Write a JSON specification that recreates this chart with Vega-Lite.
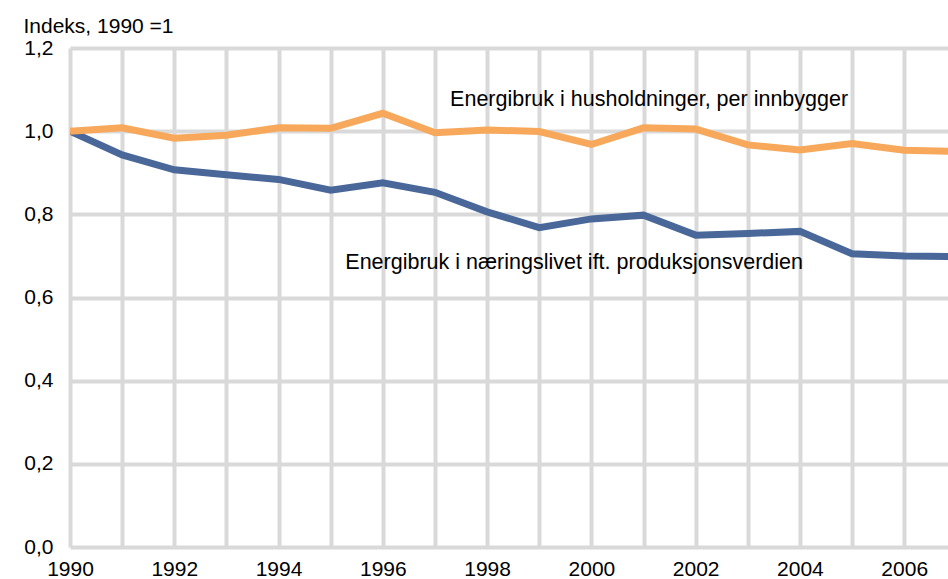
{
  "$schema": "https://vega.github.io/schema/vega-lite/v6.json",
  "autosize": {"type": "none"},
  "padding": {"left": 70, "top": 48, "right": 0, "bottom": 32},
  "width": 878,
  "height": 499,
  "background": "white",
  "config": {
    "view": {"stroke": null},
    "font": "Liberation Sans"
  },
  "datasets": {
    "serier": [
      {"aar": 1990, "serie": "hus", "verdi": 1.0},
      {"aar": 1991, "serie": "hus", "verdi": 1.008},
      {"aar": 1992, "serie": "hus", "verdi": 0.983},
      {"aar": 1993, "serie": "hus", "verdi": 0.99},
      {"aar": 1994, "serie": "hus", "verdi": 1.008},
      {"aar": 1995, "serie": "hus", "verdi": 1.007},
      {"aar": 1996, "serie": "hus", "verdi": 1.043},
      {"aar": 1997, "serie": "hus", "verdi": 0.996},
      {"aar": 1998, "serie": "hus", "verdi": 1.003},
      {"aar": 1999, "serie": "hus", "verdi": 0.999},
      {"aar": 2000, "serie": "hus", "verdi": 0.968},
      {"aar": 2001, "serie": "hus", "verdi": 1.008},
      {"aar": 2002, "serie": "hus", "verdi": 1.005},
      {"aar": 2003, "serie": "hus", "verdi": 0.967},
      {"aar": 2004, "serie": "hus", "verdi": 0.955},
      {"aar": 2005, "serie": "hus", "verdi": 0.97},
      {"aar": 2006, "serie": "hus", "verdi": 0.954},
      {"aar": 2007, "serie": "hus", "verdi": 0.951},
      {"aar": 1990, "serie": "naer", "verdi": 1.0},
      {"aar": 1991, "serie": "naer", "verdi": 0.943},
      {"aar": 1992, "serie": "naer", "verdi": 0.907},
      {"aar": 1993, "serie": "naer", "verdi": 0.895},
      {"aar": 1994, "serie": "naer", "verdi": 0.884},
      {"aar": 1995, "serie": "naer", "verdi": 0.858},
      {"aar": 1996, "serie": "naer", "verdi": 0.876},
      {"aar": 1997, "serie": "naer", "verdi": 0.853},
      {"aar": 1998, "serie": "naer", "verdi": 0.806},
      {"aar": 1999, "serie": "naer", "verdi": 0.768},
      {"aar": 2000, "serie": "naer", "verdi": 0.789},
      {"aar": 2001, "serie": "naer", "verdi": 0.798},
      {"aar": 2002, "serie": "naer", "verdi": 0.750},
      {"aar": 2003, "serie": "naer", "verdi": 0.754},
      {"aar": 2004, "serie": "naer", "verdi": 0.759},
      {"aar": 2005, "serie": "naer", "verdi": 0.705},
      {"aar": 2006, "serie": "naer", "verdi": 0.700},
      {"aar": 2007, "serie": "naer", "verdi": 0.698}
    ],
    "etiketter": [
      {"aar": 1997.29, "verdi": 1.061, "tekst": "Energibruk i husholdninger, per innbygger"},
      {"aar": 1995.28, "verdi": 0.669, "tekst": "Energibruk i næringslivet ift. produksjonsverdien"}
    ]
  },
  "layer": [
    {
      "data": {"name": "serier"},
      "transform": [{"filter": "datum.serie == 'naer'"}],
      "mark": {"type": "line", "color": "#4A679A", "strokeWidth": 7, "clip": true, "strokeCap": "butt"},
      "encoding": {
        "x": {
          "field": "aar", "type": "quantitative",
          "scale": {"domain": [1990, 2006.84], "nice": false, "zero": false},
          "axis": {
            "values": [1990,1991,1992,1993,1994,1995,1996,1997,1998,1999,2000,2001,2002,2003,2004,2005,2006],
            "labelExpr": "datum.value % 2 == 0 ? format(datum.value, 'd') : ''",
            "grid": true, "gridColor": "#D9D9D9", "gridWidth": 4,
            "domain": false, "ticks": false, "labelFlush": false, "labelOverlap": false,
            "labelFontSize": 21, "labelColor": "#000000", "labelPadding": 11,
            "labelFont": "Liberation Sans", "title": null
          }
        },
        "y": {
          "field": "verdi", "type": "quantitative",
          "scale": {"domain": [0, 1.2], "nice": false},
          "axis": {
            "values": [0, 0.2, 0.4, 0.6, 0.8, 1.0, 1.2],
            "labelExpr": "replace(format(datum.value, '.1f'), '.', ',')",
            "grid": true, "gridColor": "#D9D9D9", "gridWidth": 4,
            "domain": false, "ticks": false, "labelFlush": false, "labelOverlap": false,
            "labelFontSize": 21, "labelColor": "#000000", "labelPadding": 17,
            "labelFont": "Liberation Sans",
            "title": "Indeks, 1990 =1",
            "titleAngle": 0, "titleAlign": "left", "titleBaseline": "alphabetic",
            "titleX": -47, "titleY": -16,
            "titleFontSize": 21, "titleFontWeight": "normal", "titleColor": "#000000",
            "titleFont": "Liberation Sans"
          }
        }
      }
    },
    {
      "data": {"name": "serier"},
      "transform": [{"filter": "datum.serie == 'hus'"}],
      "mark": {"type": "line", "color": "#F7A85B", "strokeWidth": 7, "clip": true, "strokeCap": "butt"},
      "encoding": {
        "x": {"field": "aar", "type": "quantitative"},
        "y": {"field": "verdi", "type": "quantitative"}
      }
    },
    {
      "data": {"name": "etiketter"},
      "mark": {"type": "text", "align": "left", "baseline": "alphabetic", "fontSize": 21.5, "color": "#000000", "font": "Liberation Sans"},
      "encoding": {
        "x": {"field": "aar", "type": "quantitative"},
        "y": {"field": "verdi", "type": "quantitative"},
        "text": {"field": "tekst"}
      }
    }
  ]
}
